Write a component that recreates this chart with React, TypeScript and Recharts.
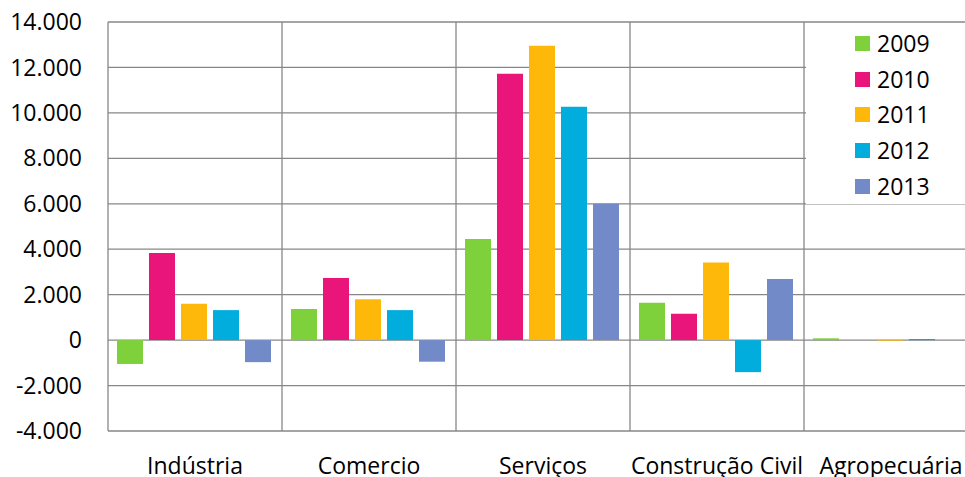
import { Bar, BarChart, CartesianGrid, Legend, XAxis, YAxis } from 'recharts'

const categories = ['Indústria', 'Comercio', 'Serviços', 'Construção Civil', 'Agropecuária']
const years = ['2009', '2010', '2011', '2012', '2013']
const values2009 = [-1050, 1370, 4450, 1640, 80]
const values2010 = [3830, 2730, 11720, 1160, 0]
const values2011 = [1600, 1800, 12950, 3420, -30]
const values2012 = [1320, 1320, 10270, -1410, 50]
const values2013 = [-970, -950, 6000, 2690, 0]
const yTicks = [-4000, -2000, 0, 2000, 4000, 6000, 8000, 10000, 12000, 14000]

const seriesValues = [values2009, values2010, values2011, values2012, values2013]
const colors = ['#7fd13b', '#ea157a', '#feb80a', '#00addc', '#738ac8']

const data = categories.map((name, i) => {
  const row: Record<string, string | number> = { name }
  years.forEach((year, s) => {
    row[year] = seriesValues[s][i]
  })
  return row
})

const FONT = '"Open Sans", "Noto Sans", sans-serif'
const GRID = '#878787'

// 14000 -> "14.000", -2000 -> "-2.000"
function formatThousands(value: number) {
  const sign = value < 0 ? '-' : ''
  return sign + String(Math.abs(value)).replace(/\B(?=(\d{3})+(?!\d))/g, '.')
}

function CategoryTick({ x, y, payload }: { x?: number; y?: number; payload?: { value: string } }) {
  return (
    <text x={x} y={(y ?? 0) + 41} textAnchor="middle" fontSize={23} fontFamily={FONT} fill="#000">
      {payload?.value}
    </text>
  )
}

function YearLegend() {
  return (
    <div
      style={{
        background: '#fff',
        width: 170,
        height: 178,
        paddingTop: 2,
        fontFamily: FONT,
        fontSize: 23,
        color: '#000',
      }}
    >
      {years.map((year, i) => (
        <div key={year} style={{ display: 'flex', alignItems: 'center', height: 35.6, paddingLeft: 49 }}>
          <span style={{ width: 15, height: 15, background: colors[i], marginRight: 7 }} />
          <span style={{ lineHeight: 1 }}>{year}</span>
        </div>
      ))}
    </div>
  )
}

export default function App() {
  return (
    <div style={{ position: 'absolute', left: 0, top: 0, width: 965, height: 477, overflow: 'hidden', background: '#fff' }}>
      <BarChart
        width={1000}
        height={477}
        data={data}
        margin={{ top: 22, right: 22, bottom: 0, left: 8 }}
        barCategoryGap={9}
        barGap={6}
      >
        <CartesianGrid
          stroke={GRID}
          strokeWidth={1.3}
          verticalCoordinatesGenerator={({ offset }: { offset: { left: number; width: number } }) =>
            [0, 1, 2, 3, 4, 5].map((i) => offset.left + (offset.width * i) / categories.length)
          }
        />
        <XAxis
          dataKey="name"
          height={46}
          axisLine={false}
          tickLine={false}
          tickSize={0}
          interval={0}
          tick={<CategoryTick />}
        />
        <YAxis
          width={100}
          domain={[-4000, 14000]}
          ticks={yTicks}
          axisLine={false}
          tickLine={false}
          tickSize={0}
          tickMargin={26}
          tickFormatter={(v) => formatThousands(Number(v))}
          tick={{ fontSize: 23, fontFamily: FONT, fill: '#000' }}
        />
        <Legend
          layout="vertical"
          align="center"
          verticalAlign="middle"
          content={<YearLegend />}
          wrapperStyle={{ top: 24, left: 806, width: 170, height: 180 }}
        />
        {years.map((year, i) => (
          <Bar key={year} dataKey={year} fill={colors[i]} isAnimationActive={false} />
        ))}
      </BarChart>
    </div>
  )
}
